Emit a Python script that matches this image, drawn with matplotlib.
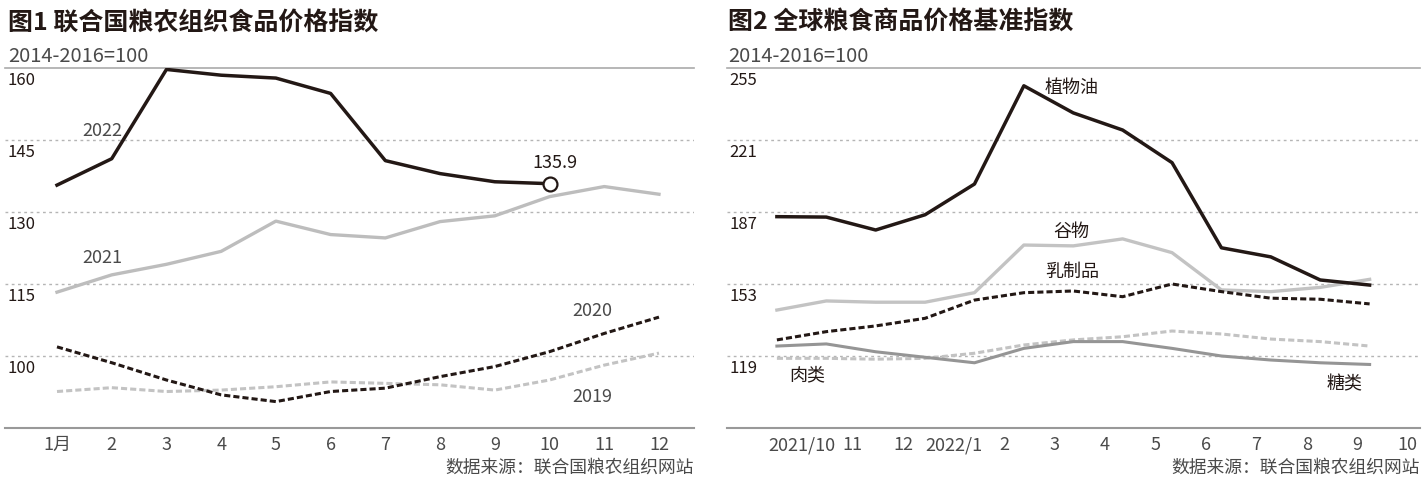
import matplotlib
matplotlib.use("Agg")
import matplotlib.pyplot as plt
import numpy as np

plt.rcParams['font.family'] = ['Noto Sans CJK SC', 'DejaVu Sans']

# 图1 data
months = [1, 2, 3, 4, 5, 6, 7, 8, 9, 10, 11, 12]
month_labels = ["1月", "2", "3", "4", "5", "6", "7", "8", "9", "10", "11", "12"]
fpi_2022 = [135.6, 141.1, 159.7, 158.5, 157.9, 154.7, 140.7, 138.0, 136.3, 135.9]
fpi_2021 = [113.3, 116.9, 119.1, 121.8, 128.1, 125.3, 124.6, 128.0, 129.2, 133.2, 135.3, 133.7]
fpi_2020 = [101.9, 98.6, 95.0, 91.9, 90.5, 92.6, 93.3, 95.7, 97.8, 100.9, 104.7, 108.1]
fpi_2019 = [92.6, 93.4, 92.6, 92.9, 93.6, 94.6, 94.3, 94.0, 92.9, 95.0, 98.1, 100.6]
yticks1 = [100, 115, 130, 145, 160]

# 图2 data
idx_labels = ["2021/10", "11", "12", "2022/1", "2", "3", "4", "5", "6", "7", "8", "9", "10"]
veg_oil = [184.8, 184.6, 178.5, 185.7, 200.2, 246.6, 233.8, 225.7, 210.3, 170.1, 165.8, 154.9, 152.5]
cereals = [140.7, 145.0, 144.4, 144.4, 148.9, 171.4, 171.0, 174.3, 167.8, 150.2, 149.4, 151.4, 155.2]
dairy = [126.6, 130.5, 133.2, 136.8, 145.4, 148.9, 149.7, 147.0, 153.0, 149.4, 146.3, 145.8, 143.6]
meat = [117.9, 117.9, 117.5, 117.9, 120.3, 124.2, 126.6, 128.1, 130.8, 129.4, 127.0, 125.8, 123.7]
sugar = [123.7, 124.7, 121.0, 118.4, 115.8, 122.6, 125.8, 125.8, 122.6, 119.0, 117.1, 115.8, 115.0]
yticks2 = [119, 153, 187, 221, 255]

BLACK = "#231815"
TXT = "#4a4a4a"
LIGHT = "#c3c3c3"
MID = "#959595"

fig = plt.figure(figsize=(14.28, 4.98), dpi=100)


def base(ax, yticks, ymin):
    for s in ["top", "right", "left"]:
        ax.spines[s].set_visible(False)
    ax.spines["bottom"].set_color("#999999")
    ax.spines["bottom"].set_linewidth(1.5)
    ax.set_ylim(ymin, yticks[-1])
    ax.set_yticks([])
    for v in yticks[:-1]:
        ax.axhline(v, color="#b5b5b5", lw=1, dashes=(2, 2.5), zorder=0)
    ax.axhline(yticks[-1], color="#aaaaaa", lw=1.2, zorder=0, clip_on=False)
    for v in yticks:
        ax.annotate(str(v), xy=(0.004, v), xycoords=("axes fraction", "data"),
                    xytext=(0, -3), textcoords="offset points",
                    ha="left", va="top", fontsize=12, color=BLACK)
    ax.tick_params(axis="x", length=0, pad=6, labelsize=13, labelcolor=TXT)


# ---- 图1 ----
ax1 = fig.add_axes([5 / 1428, 1 - 428 / 498, 689 / 1428, 360 / 498])
base(ax1, yticks1, 85)
ax1.set_xlim(0.05, 12.64)
ax1.set_xticks(months)
ax1.set_xticklabels(month_labels)

ax1.plot(months, fpi_2019, color=LIGHT, lw=2.2, dashes=(2, 1))
ax1.plot(months, fpi_2020, color=BLACK, lw=2.2, dashes=(2, 1))
ax1.plot(months, fpi_2021, color="#bdbdbd", lw=2.4)
ax1.plot(months[:len(fpi_2022)], fpi_2022, color=BLACK, lw=2.5)
ax1.plot(months[len(fpi_2022) - 1], fpi_2022[-1], "o", ms=10, mfc="white", mec=BLACK, mew=1.6)

ax1.text(1.46, 146.9, "2022", fontsize=13, color=TXT, va="center")
ax1.text(1.46, 120.4, "2021", fontsize=13, color=TXT, va="center")
ax1.text(10.78, 109.4, "2020", fontsize=13, color=TXT, va="center", ha="center")
ax1.text(10.78, 91.5, "2019", fontsize=13, color=TXT, va="center", ha="center")
ax1.text(10.1, 140.2, "%.1f" % fpi_2022[-1], fontsize=13, color=BLACK, va="center", ha="center")

fig.text(8 / 1428, 1 - 23 / 498, "图1 联合国粮农组织食品价格指数", fontsize=18,
         fontweight="bold", color=BLACK, va="center", ha="left")
fig.text(8 / 1428, 1 - 57 / 498, "2014-2016=100", fontsize=14.5, color=TXT, va="center", ha="left")
fig.text(694 / 1428, 1 - 468 / 498, "数据来源：联合国粮农组织网站", fontsize=12.8, color=TXT,
         va="center", ha="right")

# ---- 图2 ----
ax2 = fig.add_axes([727 / 1428, 1 - 428 / 498, 693 / 1428, 360 / 498])
base(ax2, yticks2, 85)
x2 = np.arange(len(veg_oil))
ax2.set_xlim(-1.01, 13.02)
ax2.set_xticks(np.arange(len(idx_labels)) * 1.022 + 0.51)
ax2.set_xticklabels(idx_labels)

ax2.plot(x2, meat, color=LIGHT, lw=2.2, dashes=(2, 1))
ax2.plot(x2, sugar, color=MID, lw=2.2)
ax2.plot(x2, cereals, color=LIGHT, lw=2.4)
ax2.plot(x2, dairy, color=BLACK, lw=2.2, dashes=(2, 1))
ax2.plot(x2, veg_oil, color=BLACK, lw=2.5)

ax2.text(5.97, 245.6, "植物油", fontsize=13, color=BLACK, va="center", ha="center")
ax2.text(5.97, 177.6, "谷物", fontsize=13, color=BLACK, va="center", ha="center")
ax2.text(5.97, 158.7, "乳制品", fontsize=13, color=BLACK, va="center", ha="center")
ax2.text(0.61, 110.0, "肉类", fontsize=13, color=BLACK, va="center", ha="center")
ax2.text(11.5, 105.8, "糖类", fontsize=13, color=BLACK, va="center", ha="center")

fig.text(728 / 1428, 1 - 23 / 498, "图2 全球粮食商品价格基准指数", fontsize=18,
         fontweight="bold", color=BLACK, va="center", ha="left")
fig.text(728 / 1428, 1 - 57 / 498, "2014-2016=100", fontsize=14.5, color=TXT, va="center", ha="left")
fig.text(1420 / 1428, 1 - 468 / 498, "数据来源：联合国粮农组织网站", fontsize=12.8, color=TXT,
         va="center", ha="right")

fig.savefig("out.png", dpi=100)
